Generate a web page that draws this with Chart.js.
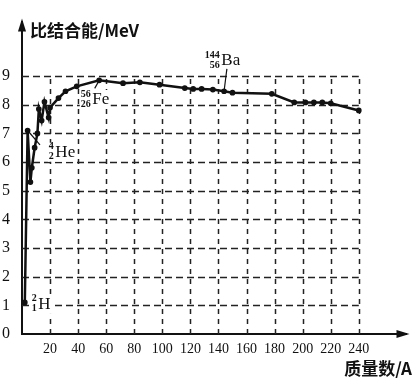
<!DOCTYPE html>
<html><head><meta charset="utf-8">
<script src="https://cdn.jsdelivr.net/npm/chart.js@4/dist/chart.umd.min.js"></script>
<style>html,body{margin:0;padding:0;background:#fff}</style>
</head><body>
<canvas id="c" width="413" height="378"></canvas>
<script>
// ---- data ----
const massNumber    = [2, 4, 6, 7, 9, 11, 12, 14, 16, 19, 20, 26, 31, 39, 55, 72, 84, 98, 116, 122, 128, 136, 144, 150, 178, 194, 202, 208, 214, 220, 240];
const bindingEnergy = [1.1, 7.1, 5.3, 5.8, 6.5, 7.0, 7.85, 7.45, 8.1, 7.55, 7.9, 8.23, 8.47, 8.64, 8.85, 8.75, 8.78, 8.7, 8.58, 8.55, 8.55, 8.53, 8.47, 8.42, 8.38, 8.08, 8.08, 8.08, 8.08, 8.05, 7.8];
const xTickValues = [20, 40, 60, 80, 100, 120, 140, 160, 180, 200, 220, 240];
const yTickValues = [0, 1, 2, 3, 4, 5, 6, 7, 8, 9];
const yAxisTitle = '比结合能/MeV';
const xAxisTitle = '质量数/A';
// nuclide labels: [mass, Z, symbol, anchorA, anchorE, leaderFromA, leaderFromE, leaderToA, leaderToE]
const nuclideLabels = [
  ['2', '1', 'H', 10.6, 1.05, null, null, null, null],
  ['4', '2', 'He', 22.7, 6.36, 4, 7.1, 12.8, 6.6],
  ['56', '26', 'Fe', 49, 8.2, 55, 8.85, 51.8, 8.57],
  ['144', '56', 'Ba', 141, 9.56, 144, 8.47, 146, 9.25]
];

const serif = '"Liberation Serif", "DejaVu Serif", serif';
const cjk = '"Noto Sans CJK SC", sans-serif';

const decor = {
  id: 'decor',
  beforeDatasetsDraw(chart) {
    const {ctx, scales: {x, y}} = chart;
    ctx.save();
    ctx.strokeStyle = '#222';
    ctx.lineWidth = 1.5;
    ctx.setLineDash([7, 4]);
    const x0 = x.getPixelForValue(0), x1 = x.getPixelForValue(240);
    yTickValues.slice(1).forEach(v => {
      const py = Math.round(y.getPixelForValue(v)) + 0.5;
      ctx.beginPath(); ctx.moveTo(x0, py); ctx.lineTo(x1, py); ctx.stroke();
    });
    ctx.setLineDash([5, 5]);
    const y0 = y.getPixelForValue(0), y9 = y.getPixelForValue(9);
    xTickValues.forEach(v => {
      const px = Math.round(x.getPixelForValue(v)) + 0.5;
      ctx.beginPath(); ctx.moveTo(px, y0); ctx.lineTo(px, y9); ctx.stroke();
    });
    ctx.setLineDash([]);
    // white boxes behind the nuclide labels
    ctx.fillStyle = '#fff';
    nuclideLabels.forEach(([m, z, sym, a, e]) => {
      const px = x.getPixelForValue(a), py = y.getPixelForValue(e);
      ctx.font = 'bold 10px ' + serif;
      const wn = Math.max(ctx.measureText(m).width, ctx.measureText(z).width);
      ctx.font = '17px ' + serif;
      const ws = ctx.measureText(sym).width;
      ctx.fillRect(px - wn - 1, py - 9, wn + ws + 4, 19);
    });
    ctx.restore();
  },
  afterDraw(chart) {
    const {ctx, chartArea: ca, scales: {x, y}} = chart;
    ctx.save();
    ctx.fillStyle = '#111';
    // arrows
    ctx.beginPath();
    ctx.moveTo(ca.left, ca.top - 3); ctx.lineTo(ca.left - 4, ca.top + 10); ctx.lineTo(ca.left + 4, ca.top + 10); ctx.closePath(); ctx.fill();
    ctx.beginPath();
    ctx.moveTo(ca.right + 3, ca.bottom); ctx.lineTo(ca.right - 10, ca.bottom - 4); ctx.lineTo(ca.right - 10, ca.bottom + 4); ctx.closePath(); ctx.fill();
    // axis titles
    ctx.font = 'bold 17px ' + cjk;
    ctx.textBaseline = 'middle'; ctx.textAlign = 'left';
    ctx.fillText(yAxisTitle, ca.left + 8, ca.top + 9);
    ctx.textAlign = 'right';
    ctx.fillText(xAxisTitle, chart.width - 1, ca.bottom + 35);
    // nuclide labels
    nuclideLabels.forEach(([m, z, sym, a, e, la, le, ta, te]) => {
      const px = x.getPixelForValue(a), py = y.getPixelForValue(e);
      ctx.font = 'bold 10px ' + serif;
      ctx.textAlign = 'right'; ctx.textBaseline = 'middle';
      ctx.fillText(m, px, py - 5);
      ctx.fillText(z, px, py + 5);
      ctx.font = '17px ' + serif;
      ctx.textAlign = 'left';
      ctx.fillText(sym, px + 1.5, py + 1);
      if (la !== null) {
        ctx.strokeStyle = '#111'; ctx.lineWidth = 1.2;
        ctx.beginPath();
        ctx.moveTo(x.getPixelForValue(la), y.getPixelForValue(le));
        ctx.lineTo(x.getPixelForValue(ta), y.getPixelForValue(te));
        ctx.stroke();
      }
    });
    ctx.restore();
  }
};

new Chart(document.getElementById('c'), {
  type: 'line',
  data: {
    datasets: [{
      data: massNumber.map((a, i) => ({x: a, y: bindingEnergy[i]})),
      borderColor: '#111',
      backgroundColor: '#111',
      borderWidth: 2.5,
      pointRadius: 1.6,
      pointBackgroundColor: '#111',
      tension: 0,
      fill: false
    }]
  },
  options: {
    responsive: false,
    animation: false,
    devicePixelRatio: 1,
    layout: {padding: {top: 13, right: 4, left: 0, bottom: 0}},
    plugins: {legend: {display: false}, tooltip: {enabled: false}},
    scales: {
      x: {
        type: 'linear', min: 0, max: 274,
        afterBuildTicks: s => { s.ticks = xTickValues.map(v => ({value: v})); },
        afterFit: s => { s.height = 44; },
        grid: {display: false, drawTicks: false},
        border: {display: true, color: '#111', width: 2},
        ticks: {color: '#111', font: {family: serif, size: 14}, padding: 7, maxRotation: 0, autoSkip: false}
      },
      y: {
        type: 'linear', min: 0, max: 10.9,
        afterBuildTicks: s => { s.ticks = yTickValues.map(v => ({value: v})); },
        afterFit: s => { s.width = 22; },
        grid: {display: false, drawTicks: false},
        border: {display: true, color: '#111', width: 2},
        ticks: {color: '#111', font: {family: serif, size: 16}, padding: 12}
      }
    }
  },
  plugins: [decor]
});
</script>
</body></html>
